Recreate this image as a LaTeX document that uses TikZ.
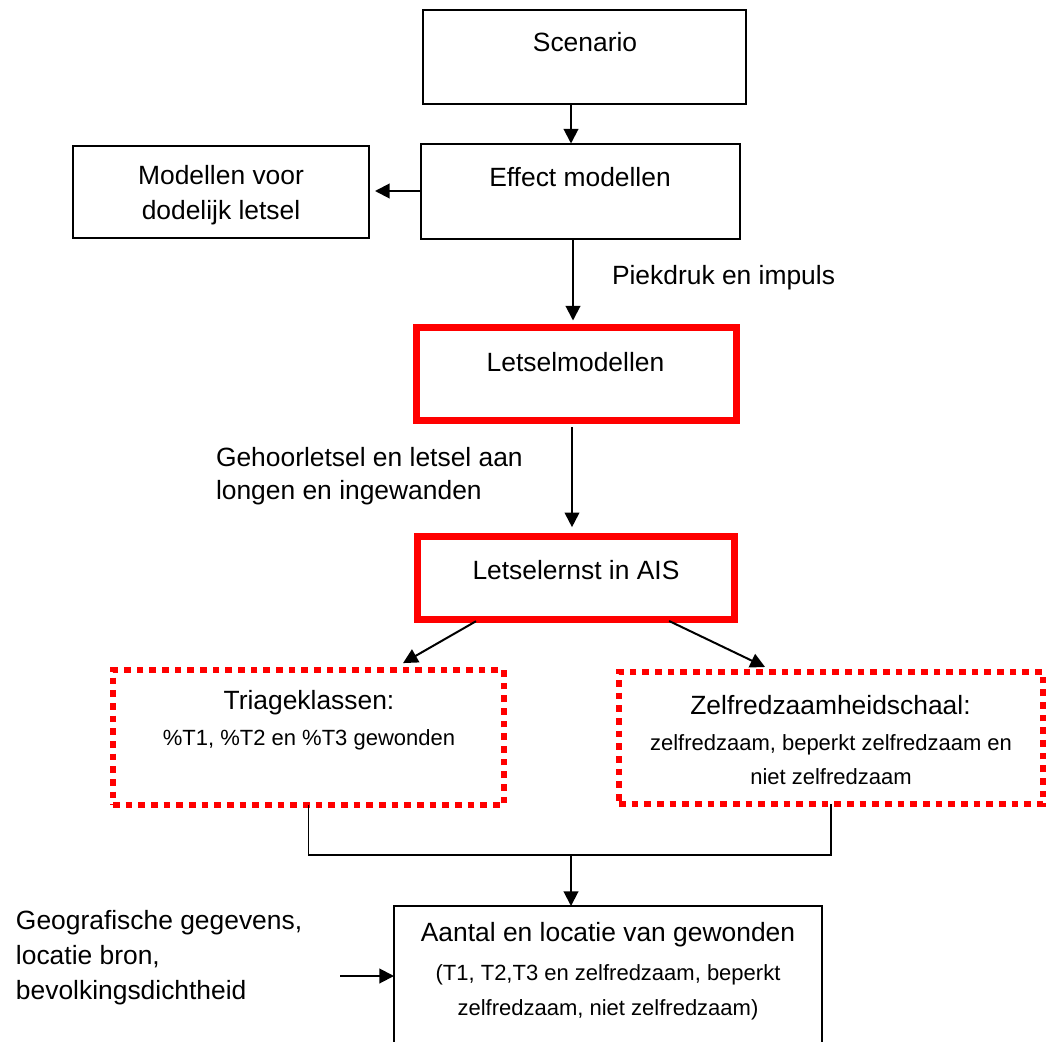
\documentclass[tikz,border=0pt]{standalone}
\usepackage{fontspec}
\setmainfont{Liberation Sans}
\usetikzlibrary{arrows.meta}

\newcommand{\bigtxt}{\fontsize{19.8pt}{25.5pt}\selectfont}
\newcommand{\smalltxt}{\fontsize{16.5pt}{25.5pt}\selectfont}

\tikzset{
  plainbox/.style={draw=black, line width=1.5pt, inner sep=0pt, outer sep=0pt},
  redbox/.style={draw=red, line width=5.25pt, inner sep=0pt, outer sep=0pt},
  dotbox/.style={draw=red, line width=5pt, dash pattern=on 5pt off 4.5pt, inner sep=0pt, outer sep=0pt},
  lbl/.style={inner sep=0pt, outer sep=0pt, align=center, font=\bigtxt},
  note/.style={inner sep=0pt, outer sep=0pt, align=left, anchor=west, font=\bigtxt},
  arr/.style={draw=black, line width=1.5pt, -{Triangle[length=11pt,width=11pt]}},
  link/.style={draw=black, line width=1.1pt}
}

\begin{document}
\begin{tikzpicture}[x=0.75pt,y=-0.75pt]
  \clip (0,0) rectangle (1057,1042);
  \useasboundingbox (0,0) rectangle (1057,1042);

  % boxes
  \node[plainbox, minimum width=242.25pt, minimum height=70.5pt] (scen) at (584.5,57) {};
  \node[plainbox, minimum width=239.25pt, minimum height=71.25pt] (eff) at (580.5,191) {};
  \node[plainbox, minimum width=222pt, minimum height=69pt] (mod) at (221,192) {};
  \node[redbox, minimum width=240pt, minimum height=69.75pt] (lmod) at (576.5,374) {};
  \node[redbox, minimum width=237.75pt, minimum height=62.25pt] (ernst) at (576,578) {};
  \node[dotbox, minimum width=293.25pt, minimum height=101.25pt] (tri) at (308.5,737.5) {};
  \node[dotbox, minimum width=318pt, minimum height=99pt] (zel) at (831,738) {};
  \node[plainbox, minimum width=321pt, minimum height=145.5pt] (out) at (608,1003) {};

  % texts inside boxes
  \node[lbl] (scenT) at (585,42) {Scenario};
  \node[lbl] (effT) at (580,177) {Effect modellen};
  \node[lbl, font=\fontsize{19.8pt}{26.25pt}\selectfont] (modT) at (221,195.5) {Modellen voor\\dodelijk letsel};
  \node[lbl] (lmodT) at (575.5,362) {Letselmodellen};
  \node[lbl] (ernstT) at (576,570) {Letselernst in AIS};
  \node[lbl] (triT) at (309,703) {Triageklassen:};
  \node[lbl, font=\smalltxt] (triS) at (309,740) {\%T1, \%T2 en \%T3 gewonden};
  \node[lbl] (zelT) at (830.5,705) {Zelfredzaamheidschaal:};
  \node[lbl, font=\fontsize{16.5pt}{25.5pt}\selectfont] (zelS) at (831,760) {zelfredzaam, beperkt zelfredzaam en\\niet zelfredzaam};
  \node[lbl] (outT) at (608,935) {Aantal en locatie van gewonden};
  \node[lbl, font=\fontsize{16.5pt}{26.25pt}\selectfont] (outS) at (608,992.5) {(T1, T2,T3 en zelfredzaam, beperkt\\zelfredzaam, niet zelfredzaam)};

  % free-standing notes
  \node[note] (piek) at (612,278) {Piekdruk en impuls};
  \node[note, font=\fontsize{19.8pt}{24.75pt}\selectfont] (gehoor) at (216,476.5) {Gehoorletsel en letsel aan\\longen en ingewanden};
  \node[note, font=\fontsize{19.8pt}{26.25pt}\selectfont] (geo) at (16,958) {Geografische gegevens,\\locatie bron,\\bevolkingsdichtheid};

  % helper coordinates
  \coordinate (x1) at (571,0);
  \coordinate (x2) at (573,0);
  \coordinate (x3) at (572,0);
  \coordinate (xl0) at (479,0);
  \coordinate (xl1) at (391,0);
  \coordinate (xr0) at (666,0);
  \coordinate (xr1) at (775.5,0);
  \coordinate (hb) at (0,855);
  \coordinate (jn) at (571,855);
  \coordinate (gin) at (340,976);

  % connectors
  \draw[arr] (scen.south -| x1) -- (eff.north -| x1);
  \draw[arr, shorten >=4.5pt] (eff.west) -- (mod.east |- eff.west);
  \draw[arr, shorten >=5.25pt] (eff.south -| x2) -- (lmod.north -| x2);
  \draw[arr, shorten <=4.9pt, shorten >=7pt] (lmod.south -| x3) -- (ernst.north -| x3);
  \draw[arr, shorten <=2.6pt, shorten >=10.4pt] (ernst.south -| xl0) -- (tri.north -| xl1);
  \draw[arr, shorten <=2.6pt, shorten >=8.7pt] (ernst.south -| xr0) -- (zel.north -| xr1);
  \draw[link] (tri.south) -- (tri.south |- hb) -| (zel.south);
  \draw[arr] (jn) -- (out.north -| jn);
  \draw[arr] (gin) -- (out.west |- gin);
\end{tikzpicture}
\end{document}
